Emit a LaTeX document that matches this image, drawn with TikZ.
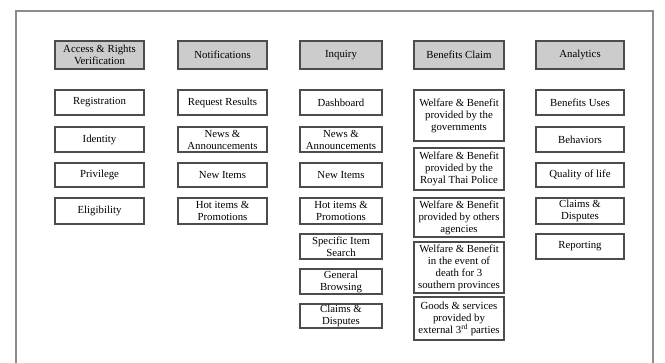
\documentclass[tikz,border=0pt]{standalone}
\usepackage{fontspec}
\setmainfont{Liberation Serif}
\begin{document}
\begin{tikzpicture}[x=1pt,y=-1pt,
  box/.style={draw=black!70, line width=1.1pt, fill=white, inner sep=0pt, align=center,
    font=\fontsize{10.8}{12}\selectfont},
  head/.style={box, fill=black!20},
  frameline/.style={draw=black!45, line width=1.6pt}]
\useasboundingbox (0,0) rectangle (665,363);
\draw[frameline] (16,364) -- (16,11) -- (653,11) -- (653,364);
% headers
\node[head, minimum width=89pt, minimum height=28pt] (h1) at (99.5,55) {Access \& Rights\\Verification};
\node[head, minimum width=89pt, minimum height=28pt] (h2) at (222.5,55) {Notifications};
\node[head, minimum width=82pt, minimum height=28pt] (h3) at (341,55) {Inquiry};
\node[head, minimum width=90pt, minimum height=28pt] (h4) at (459,55) {Benefits Claim};
\node[head, minimum width=88pt, minimum height=28pt] (h5) at (580,55) {Analytics};
% column 1
\node[box, minimum width=89pt, minimum height=25pt] (a1) at (99.5,102.5) {Registration};
\node[box, minimum width=89pt, minimum height=25pt] (a2) at (99.5,139.5) {Identity};
\node[box, minimum width=89pt, minimum height=24pt] (a3) at (99.5,175) {Privilege};
\node[box, minimum width=89pt, minimum height=26pt] (a4) at (99.5,211) {Eligibility};
% column 2
\node[box, minimum width=89pt, minimum height=25pt] (b1) at (222.5,102.5) {Request Results};
\node[box, minimum width=89pt, minimum height=25pt] (b2) at (222.5,139.5) {News \&\\Announcements};
\node[box, minimum width=89pt, minimum height=24pt] (b3) at (222.5,175) {New Items};
\node[box, minimum width=89pt, minimum height=26pt] (b4) at (222.5,211) {Hot items \&\\Promotions};
% column 3
\node[box, minimum width=82pt, minimum height=25pt] (c1) at (341,102.5) {Dashboard};
\node[box, minimum width=82pt, minimum height=25pt] (c2) at (341,139.5) {News \&\\Announcements};
\node[box, minimum width=82pt, minimum height=24pt] (c3) at (341,175) {New Items};
\node[box, minimum width=82pt, minimum height=26pt] (c4) at (341,211) {Hot items \&\\Promotions};
\node[box, minimum width=82pt, minimum height=25pt] (c5) at (341,246.5) {Specific Item\\Search};
\node[box, minimum width=82pt, minimum height=25pt] (c6) at (341,281.5) {General\\Browsing};
\node[box, minimum width=82pt, minimum height=24pt] (c7) at (341,316) {Claims \&\\Disputes};
% column 4
\node[box, minimum width=90pt, minimum height=51pt] (d1) at (459,115.5) {Welfare \& Benefit\\provided by the\\governments};
\node[box, minimum width=90pt, minimum height=42pt] (d2) at (459,169) {Welfare \& Benefit\\provided by the\\Royal Thai Police};
\node[box, minimum width=90pt, minimum height=39pt] (d3) at (459,217.5) {Welfare \& Benefit\\provided by others\\agencies};
\node[box, minimum width=90pt, minimum height=51pt] (d4) at (459,267.5) {Welfare \& Benefit\\in the event of\\death for 3\\southern provinces};
\node[box, minimum width=90pt, minimum height=43pt] (d5) at (459,318.5) {Goods \& services\\provided by\\external 3\textsuperscript{rd} parties};
% column 5
\node[box, minimum width=88pt, minimum height=25pt] (e1) at (580,102.5) {Benefits Uses};
\node[box, minimum width=88pt, minimum height=25pt] (e2) at (580,139.5) {Behaviors};
\node[box, minimum width=88pt, minimum height=24pt] (e3) at (580,175) {Quality of life};
\node[box, minimum width=88pt, minimum height=26pt] (e4) at (580,211) {Claims \&\\Disputes};
\node[box, minimum width=88pt, minimum height=25pt] (e5) at (580,246.5) {Reporting};
\end{tikzpicture}
\end{document}
